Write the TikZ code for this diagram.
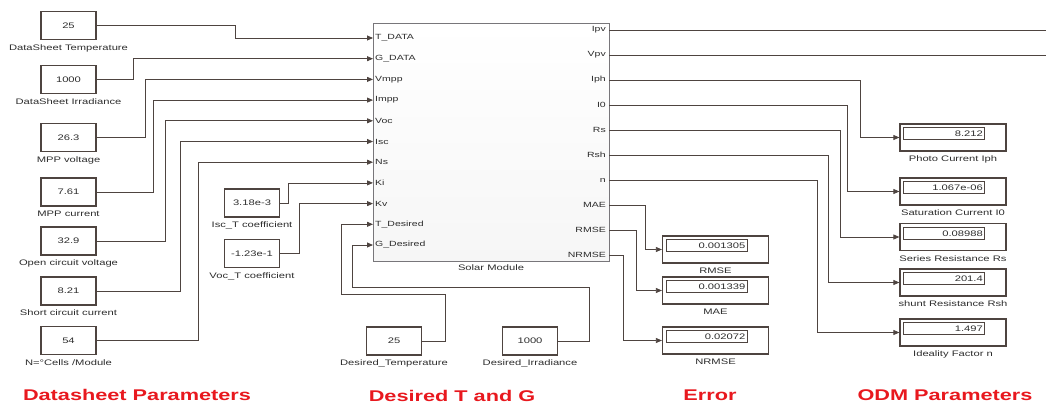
\documentclass[tikz,border=0pt]{standalone}
\usepackage{fontspec}
\setmainfont{Liberation Sans}[FakeStretch=1.4]
\usepackage{tikz}
\usetikzlibrary{positioning, calc, arrows.meta}
\definecolor{simu-line}{RGB}{78,68,64}
\definecolor{simu-text}{RGB}{45,45,45}
\definecolor{simu-red}{RGB}{232,24,30}
\definecolor{simu-edge}{RGB}{120,118,122}

\begin{document}
\begin{tikzpicture}[x=1pt, y=-1pt,
    const/.style={rectangle, draw=simu-line, line width=1.2pt, minimum width=55pt, minimum height=28pt, inner sep=0pt, font=\fontsize{8}{9}\selectfont, text=simu-text},
    caption/.style={inner sep=0pt, font=\fontsize{8}{9}\selectfont, text=simu-text},
    port/.style={inner sep=0pt, font=\fontsize{7.5}{8}\selectfont, text=simu-text},
    module/.style={rectangle, draw=simu-edge, line width=0.8pt, top color=white, bottom color=gray!7, minimum width=236pt, minimum height=238pt},
    display/.style={rectangle, draw=simu-line, line width=1.2pt, minimum width=106pt, minimum height=27pt, inner sep=0pt},
    readout/.style={rectangle, draw=simu-line, line width=0.8pt, minimum width=81pt, minimum height=12pt, text width=77pt, align=right, inner sep=0pt, font=\fontsize{8}{9}\selectfont, text=simu-text, anchor=north west},
    wire/.style={draw=simu-line, line width=0.8pt, -{Triangle[length=6pt,width=5pt]}},
    bus/.style={draw=simu-line, line width=0.8pt},
    group/.style={inner sep=0pt, font=\fontsize{15.5}{17}\selectfont\bfseries, text=simu-red}
]
    \useasboundingbox (0,0) rectangle (1046,404);

    % Solar Module block with its ports
    \node[module] (sm) at (491,142) {};
    \node[caption, below=3pt of sm] (smcap) {Solar Module};
    \foreach \lbl [count=\i] in {T\_DATA,G\_DATA,Vmpp,Impp,Voc,Isc,Ns,Ki,Kv,T\_Desired,G\_Desired}{
        \coordinate (in\i) at (373,17.3+20.7*\i);
        \node[port, anchor=west] (inl\i) at ([xshift=2pt]in\i) {\lbl};
    }
    \foreach \lbl [count=\i] in {Ipv,Vpv,Iph,I0,Rs,Rsh,n,MAE,RMSE,NRMSE}{
        \coordinate (out\i) at (609,5+25*\i);
        \node[port, anchor=east] (outl\i) at ([xshift=-3pt]out\i) {\lbl};
    }

    % Datasheet constants
    \node[const] (cTds) at (68.5,25.5) {25};
    \node[const] (cGds) at (68.5,79.5) {1000};
    \node[const] (cVmpp) at (68.5,137.5) {26.3};
    \node[const] (cImpp) at (68.5,192) {7.61};
    \node[const] (cVoc) at (68.5,241) {32.9};
    \node[const] (cIsc) at (68.5,291) {8.21};
    \node[const] (cNs) at (68.5,340.5) {54};
    \node[const] (cKi) at (252,203) {3.18e-3};
    \node[const] (cKv) at (252,253.5) {-1.23e-1};

    \node[caption, below=4pt of cTds] (capTds) {DataSheet Temperature};
    \node[caption, below=4pt of cGds] (capGds) {DataSheet Irradiance};
    \node[caption, below=4pt of cVmpp] (capVmpp) {MPP voltage};
    \node[caption, below=4pt of cImpp] (capImpp) {MPP current};
    \node[caption, below=4pt of cVoc] (capVoc) {Open circuit voltage};
    \node[caption, below=4pt of cIsc] (capIsc) {Short circuit current};
    \node[caption, below=4pt of cNs] (capNs) {N=°Cells /Module};
    \node[caption, below=4pt of cKi] (capKi) {Isc\_T coefficient};
    \node[caption, below=4pt of cKv] (capKv) {Voc\_T coefficient};

    % Desired conditions
    \node[const] (cTdes) at (394,341) {25};
    \node[const] (cGdes) at (530,341) {1000};
    \node[caption, below=4pt of cTdes] (capTdes) {Desired\_Temperature};
    \node[caption, below=4pt of cGdes] (capGdes) {Desired\_Irradiance};

    \draw[wire] (cTds.east) -- ++(139,0) |- (in1);
    \draw[wire] (cGds.east) -- ++(37,0) |- (in2);
    \draw[wire] (cVmpp.east) -- ++(49,0) |- (in3);
    \draw[wire] (cImpp.east) -- ++(57,0) |- (in4);
    \draw[wire] (cVoc.east) -- ++(69,0) |- (in5);
    \draw[wire] (cIsc.east) -- ++(84,0) |- (in6);
    \draw[wire] (cNs.east) -- ++(102,0) |- (in7);
    \draw[wire] (cKi.east) -- ++(8,0) |- (in8);
    \draw[wire] (cKv.east) -- ++(19,0) |- (in9);
    \draw[wire] (cTdes.east) -| (445,294) -| ([xshift=-32pt]in10) -- (in10);
    \draw[wire] (cGdes.east) -| (589,287) -| ([xshift=-21pt]in11) -- (in11);

    % Error displays
    \node[display] (dRmse) at (715.5,249.5) {};
    \node[display] (dMae) at (715.5,290.5) {};
    \node[display] (dNrmse) at (715.5,340.5) {};
    \node[readout] (vRmse) at ([shift={(4pt,-4pt)}]dRmse.north west) {0.001305};
    \node[readout] (vMae) at ([shift={(4pt,-4pt)}]dMae.north west) {0.001339};
    \node[readout] (vNrmse) at ([shift={(4pt,-4pt)}]dNrmse.north west) {0.02072};
    \node[caption, below=4pt of dRmse] (capRmse) {RMSE};
    \node[caption, below=4pt of dMae] (capMae) {MAE};
    \node[caption, below=4pt of dNrmse] (capNrmse) {NRMSE};

    % ODM parameter displays
    \node[display] (dIph) at (953,137.5) {};
    \node[display] (dSat) at (953,191.5) {};
    \node[display] (dRs) at (953,237) {};
    \node[display] (dRsh) at (953,282.5) {};
    \node[display] (dN) at (953,332.5) {};
    \node[readout] (vIph) at ([shift={(4pt,-4pt)}]dIph.north west) {8.212};
    \node[readout] (vSat) at ([shift={(4pt,-4pt)}]dSat.north west) {1.067e-06};
    \node[readout] (vRs) at ([shift={(4pt,-4pt)}]dRs.north west) {0.08988};
    \node[readout] (vRsh) at ([shift={(4pt,-4pt)}]dRsh.north west) {201.4};
    \node[readout] (vN) at ([shift={(4pt,-4pt)}]dN.north west) {1.497};
    \node[caption, below=4pt of dIph] (capIph) {Photo Current Iph};
    \node[caption, below=4pt of dSat] (capSat) {Saturation Current I0};
    \node[caption, below=4pt of dRs] (capRs) {Series Resistance Rs};
    \node[caption, below=4pt of dRsh] (capRsh) {shunt Resistance Rsh};
    \node[caption, below=4pt of dN] (capN) {Ideality Factor n};

    \coordinate (ipvEnd) at (1046,30);
    \coordinate (vpvEnd) at (1046,55);
    \draw[bus] (out1) -- (ipvEnd);
    \draw[bus] (out2) -- (vpvEnd);
    \draw[wire] (out3) -- ++(251,0) |- (dIph.west);
    \draw[wire] (out4) -- ++(238,0) |- (dSat.west);
    \draw[wire] (out5) -- ++(231,0) |- (dRs.west);
    \draw[wire] (out6) -- ++(219,0) |- (dRsh.west);
    \draw[wire] (out7) -- ++(208,0) |- (dN.west);
    \draw[wire] (out8) -- ++(36,0) |- (dRmse.west);
    \draw[wire] (out9) -- ++(27,0) |- (dMae.west);
    \draw[wire] (out10) -- ++(14,0) |- (dNrmse.west);

    % Group titles
    \node[group] (gDatasheet) at (137,395) {Datasheet Parameters};
    \node[group] (gDesired) at (452,396) {Desired T and G};
    \node[group] (gError) at (710,395) {Error};
    \node[group] (gOdm) at (945,395) {ODM Parameters};
\end{tikzpicture}
\end{document}
